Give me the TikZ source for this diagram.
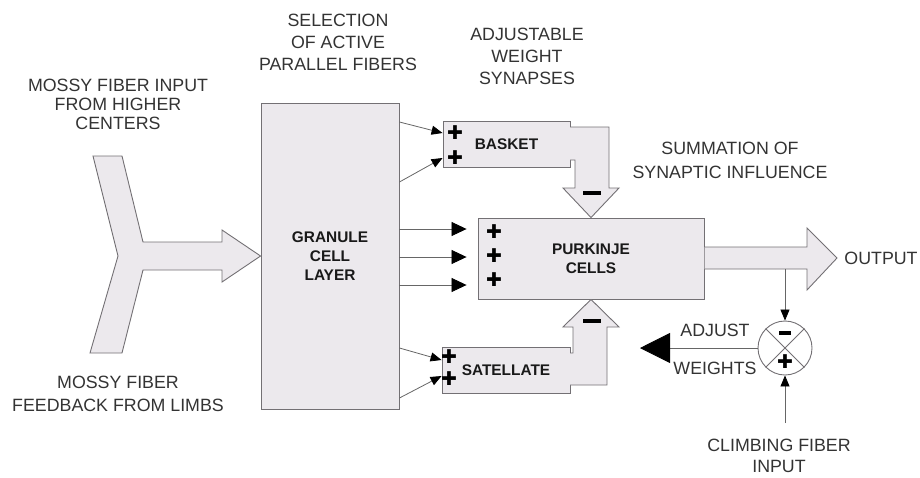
\documentclass[tikz,border=0pt]{standalone}
\usepackage{fontspec}
\setmainfont{Liberation Sans}
\newfontfamily\signfont{DejaVu Sans}
\usetikzlibrary{arrows.meta}
\definecolor{cellfill}{RGB}{236,233,237}
\definecolor{cellline}{RGB}{115,112,116}
\tikzset{
  block/.style     = {draw=cellline,fill=cellfill,line width=0.9pt,inner sep=0pt},
  fatarr/.style    = {draw=cellline,line width=0.9pt},
  fiberarr/.style  = {-{Triangle[length=15pt,width=14pt,color=black]},draw=black!60,line width=0.8pt},
  synarr/.style    = {-{Triangle[length=11pt,width=9pt,color=black]},draw=black!60,line width=0.8pt},
  adjarr/.style    = {-{Triangle[length=30pt,width=30pt,color=black]},draw=black!60,line width=0.8pt},
  celltext/.style  = {font=\fontsize{15.4}{19}\selectfont\bfseries,text=black!90,align=center},
  labeltext/.style = {font=\fontsize{17.8}{22}\selectfont,text=black!80,align=center},
  plussign/.style  = {font=\signfont\fontsize{19}{19}\selectfont,inner sep=0pt},
  minusbar/.style  = {fill=black,minimum width=18pt,minimum height=4.5pt,inner sep=0pt}
}
\begin{document}
\begin{tikzpicture}[x=1pt,y=-1pt]
  \useasboundingbox (0,0) rectangle (920,477);
  % cell layers
  \node[block,celltext,minimum width=138pt,minimum height=306pt] (granule) at (330,256) {GRANULE\\CELL\\LAYER};
  \node[block,celltext,minimum width=226pt,minimum height=81pt] (purkinje) at (591,258.5) {PURKINJE\\CELLS};
  \node[block,celltext,minimum width=127pt,minimum height=46pt] (basket) at (506.5,144) {BASKET};
  \node[block,celltext,minimum width=128pt,minimum height=46pt] (satellite) at (506,370) {SATELLATE};

  % mossy fiber inputs
  \filldraw[block] (93,156) -- (122,156) -- (143,242) -- (222,242) -- (222,230) -- (granule.west)
    -- (222,282) -- (222,270) -- (143,270) -- (122,353) -- (90,353) -- (118,256) -- cycle;

  % inhibitory paths
  \fill[cellfill] (568,127) -- (609,127) -- (609,188) -- (619,188) -- (purkinje.north) -- (563,188)
    -- (575,188) -- (575,160) -- (568,160) -- cycle;
  \draw[fatarr] (570,127) -- (609,127) -- (609,188) -- (619,188) -- (purkinje.north) -- (563,188)
    -- (575,188) -- (575,160) -- (570,160);
  \fill[cellfill] (568,385) -- (607,385) -- (607,327) -- (619,327) -- (purkinje.south) -- (563,327)
    -- (573,327) -- (573,353) -- (568,353) -- cycle;
  \draw[fatarr] (570,385) -- (607,385) -- (607,327) -- (619,327) -- (purkinje.south) -- (563,327)
    -- (573,327) -- (573,353) -- (570,353);
  \node[minusbar] (bminus) at (592,193) {};
  \node[minusbar] (sminus) at (592,321) {};

  % output
  \filldraw[block] (704.5,247) -- (807,247) -- (807,228) -- (837,258) -- (807,290) -- (807,269) -- (704.5,269);
  \node[labeltext] (out) at (881,258) {OUTPUT};

  % parallel fibers
  \foreach \y in {229,257,285}
    \draw[fiberarr,shorten >=11pt] (granule.east |- 0,\y) -- (purkinje.west |- 0,\y);
  \draw[synarr] (granule.east |- 0,122) -- (basket.west |- 0,133);
  \draw[synarr] (granule.east |- 0,182) -- (basket.west |- 0,158);
  \draw[synarr] (granule.east |- 0,348) -- (satellite.west |- 0,360);
  \draw[synarr] (granule.east |- 0,398) -- (satellite.west |- 0,376);

  % synapse signs
  \foreach \y in {133,158} \node[plussign] (bp\y) at (455,\y) {✚};
  \foreach \y in {357,379} \node[plussign] (sp\y) at (449,\y) {✚};
  \foreach \y in {232,256,280} \node[plussign] (pp\y) at (494,\y) {✚};

  % error junction
  \node[circle,draw=cellline,fill=white,line width=0.9pt,minimum size=54pt,inner sep=0pt] (sum) at (785,348) {};
  \draw[cellline,line width=0.8pt] (sum.north west) -- (sum.south east) (sum.north east) -- (sum.south west);
  \node[minusbar,minimum width=12pt,minimum height=3.5pt] (summinus) at (785,333) {};
  \node[plussign] (sumplus) at (785,362) {✚};
  \coordinate (tap) at (785,269);
  \coordinate (climb) at (785,423);
  \coordinate (adjtip) at (640,348);
  \draw[synarr] (tap) -- (sum.north);
  \draw[synarr] (climb) -- (sum.south);
  \draw[adjarr] (sum.west) -- (adjtip);

  % captions
  \node[labeltext,font=\fontsize{17.8}{19}\selectfont] (mossyin) at (118,104) {MOSSY FIBER INPUT\\FROM HIGHER\\CENTERS};
  \node[labeltext,font=\fontsize{17.8}{23}\selectfont] (mossyfb) at (118,394) {MOSSY FIBER\\FEEDBACK FROM LIMBS};
  \node[labeltext] (select) at (338,42) {SELECTION\\OF ACTIVE\\PARALLEL FIBERS};
  \node[labeltext] (adjsyn) at (527,56) {ADJUSTABLE\\WEIGHT\\SYNAPSES};
  \node[labeltext,font=\fontsize{17.8}{24}\selectfont] (summ) at (730,160) {SUMMATION OF\\SYNAPTIC INFLUENCE};
  \node[labeltext] (adjust) at (715,330) {ADJUST};
  \node[labeltext] (weights) at (715,368) {WEIGHTS};
  \node[labeltext,font=\fontsize{17.8}{21}\selectfont] (climbin) at (779,456) {CLIMBING FIBER\\INPUT};
\end{tikzpicture}
\end{document}
